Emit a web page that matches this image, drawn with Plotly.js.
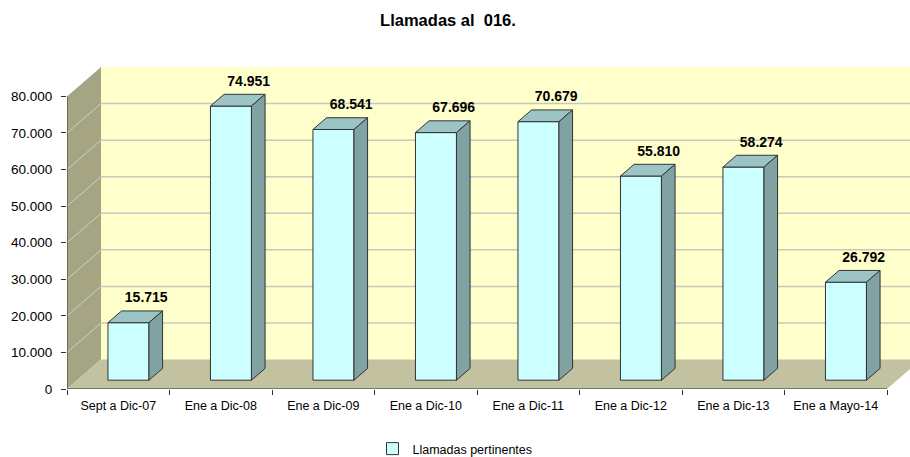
<!DOCTYPE html>
<html>
<head>
<meta charset="utf-8">
<script src="https://cdn.plot.ly/plotly-3.0.1.min.js"></script>
<style>html,body{margin:0;padding:0;background:#fff;}#chart{width:910px;height:457px;}</style>
</head>
<body>
<div id="chart"></div>
<script>
// ---- data ----
var categories = ['Sept a Dic-07', 'Ene a Dic-08', 'Ene a Dic-09', 'Ene a Dic-10',
                  'Ene a Dic-11', 'Ene a Dic-12', 'Ene a Dic-13', 'Ene a Mayo-14'];
var values = [15715, 74951, 68541, 67696, 70679, 55810, 58274, 26792];
var yTicks = [0, 10000, 20000, 30000, 40000, 50000, 60000, 70000, 80000];
var seriesName = 'Llamadas pertinentes';
var chartTitle = 'Llamadas al\u00a0 016.';

// ---- 3D look parameters (depth of the box in axis units) ----
var DX = 0.332, DY = 8040;      // back wall offset
var T0 = 0.3, T1 = 0.7;         // bar front/back depth fraction
var HALF = 0.2;                 // half bar width
var YMAX = 80000;
var LABEL_GAP = 1400, LABEL_DX = 0.107;
var n = categories.length;
var idx = categories.map(function (c, i) { return i; });

var FONT = '"Liberation Sans", Arial, sans-serif';
var base = T0 * DY;
var dd = (T1 - T0) * DX, ddy = (T1 - T0) * DY;

// top and side faces
var topX = [], topY = [], sideX = [], sideY = [];
idx.forEach(function (i) {
  var v = values[i];
  var xl = i + T0 * DX - HALF, xr = i + T0 * DX + HALF;
  topX.push(xl, xr, xr + dd, xl + dd, xl, null);
  topY.push(base + v, base + v, base + v + ddy, base + v + ddy, base + v, null);
  sideX.push(xr, xr, xr + dd, xr + dd, xr, null);
  sideY.push(base, base + v, base + v + ddy, base + ddy, base, null);
});

var traces = [
  {
    type: 'bar', name: seriesName, x: idx, y: values, base: base,
    width: 2 * HALF, offset: T0 * DX - HALF,
    marker: { color: '#CCFFFF', line: { color: '#333333', width: 1 } },
    hoverinfo: 'skip', showlegend: true
  },
  {
    type: 'scatter', mode: 'lines', x: topX, y: topY, fill: 'toself',
    fillcolor: '#9CC4C4', line: { color: '#333333', width: 1 },
    hoverinfo: 'skip', showlegend: false
  },
  {
    type: 'scatter', mode: 'lines', x: sideX, y: sideY, fill: 'toself',
    fillcolor: '#80A2A2', line: { color: '#333333', width: 1 },
    hoverinfo: 'skip', showlegend: false
  },
  {
    type: 'scatter', mode: 'text',
    x: idx.map(function (i) { return i + 0.5 * DX + LABEL_DX; }),
    y: values.map(function (v) { return base + v + ddy + LABEL_GAP; }),
    customdata: values, texttemplate: '%{customdata:,}',
    textposition: 'top center',
    textfont: { family: FONT, size: 14, color: '#000', weight: 'bold' },
    hoverinfo: 'skip', showlegend: false, cliponaxis: false
  }
];

// walls, floor, gridlines, axis lines
var shapes = [];
var XL = -0.5, XR = n - 0.5;
shapes.push({ type: 'path', layer: 'below', xref: 'x', yref: 'y',
  path: 'M' + (XL + DX) + ',' + DY + ' L' + (XR + DX + 1) + ',' + DY + ' L' + (XR + DX + 1) + ',' + (YMAX + DY) +
        ' L' + (XL + DX) + ',' + (YMAX + DY) + ' Z',
  fillcolor: '#FFFFCC', line: { width: 0 } });
shapes.push({ type: 'path', layer: 'below', xref: 'x', yref: 'y',
  path: 'M' + XL + ',0 L' + (XL + DX) + ',' + DY + ' L' + (XL + DX) + ',' + (YMAX + DY) + ' L' + XL + ',' + YMAX + ' Z',
  fillcolor: '#A5A583', line: { width: 0 } });
shapes.push({ type: 'path', layer: 'below', xref: 'x', yref: 'y',
  path: 'M' + XL + ',0 L' + XR + ',0 L' + (XR + DX) + ',' + DY + ' L' + (XL + DX) + ',' + DY + ' Z',
  fillcolor: '#C2C2A0', line: { width: 0 } });
yTicks.forEach(function (v) {
  if (v === 0 || v === YMAX) return;
  shapes.push({ type: 'line', layer: 'below', xref: 'x', yref: 'y',
    x0: XL + DX, y0: v + DY, x1: XR + DX + 1, y1: v + DY,
    line: { color: '#C8C8C0', width: 1.5 } });
  shapes.push({ type: 'line', layer: 'below', xref: 'x', yref: 'y',
    x0: XL, y0: v, x1: XL + DX, y1: v + DY,
    line: { color: '#CFCFBE', width: 1 } });
});
shapes.push({ type: 'line', layer: 'below', xref: 'x', yref: 'y',
  x0: XL, y0: 0, x1: XL, y1: YMAX, line: { color: '#333333', width: 1 } });
shapes.push({ type: 'line', layer: 'below', xref: 'x', yref: 'y',
  x0: XL, y0: 0, x1: XR, y1: 0, line: { color: '#333333', width: 1 } });

var boundaries = idx.map(function (i) { return i - 0.5; }).concat([n - 0.5]);

var layout = {
  width: 910, height: 457,
  margin: { l: 67, r: 0, t: 67, b: 68, pad: 0 },
  paper_bgcolor: '#FFFFFF', plot_bgcolor: '#FFFFFF',
  separators: ',.',
  font: { family: FONT, color: '#000' },
  title: {
    text: '<b>' + chartTitle + '</b>',
    font: { family: FONT, size: 16.5, color: '#000' },
    x: 0.4923, xref: 'container', xanchor: 'center',
    y: 0.956, yref: 'container', yanchor: 'middle'
  },
  showlegend: true,
  legend: {
    orientation: 'h', x: 0.5, xref: 'container', xanchor: 'center',
    y: 0.0175, yref: 'container', yanchor: 'middle',
    font: { family: FONT, size: 12.5, color: '#000' },
    bgcolor: 'rgba(0,0,0,0)', itemwidth: 30
  },
  xaxis: {
    type: 'linear', range: [XL, XL + 843 / 102.5],
    tickmode: 'array', tickvals: idx, ticktext: categories,
    ticks: '', showgrid: false, zeroline: false, showline: false,
    tickfont: { family: FONT, size: 12.5, color: '#000' },
    ticklabelstandoff: 7,
    minor: { tickmode: 'array', tickvals: boundaries, ticks: 'outside', ticklen: 5,
             tickcolor: '#333333', tickwidth: 1, showgrid: false },
    fixedrange: true
  },
  yaxis: {
    range: [0, YMAX + DY],
    tickmode: 'array', tickvals: yTicks, tickformat: ',d',
    ticks: 'outside', ticklen: 5, tickcolor: '#333333', tickwidth: 1,
    showgrid: false, zeroline: false, showline: false,
    tickfont: { family: FONT, size: 13.5, color: '#000' },
    ticklabelstandoff: 6,
    fixedrange: true
  },
  shapes: shapes
};

Plotly.newPlot('chart', traces, layout, { displayModeBar: false, staticPlot: true });
</script>
</body>
</html>
